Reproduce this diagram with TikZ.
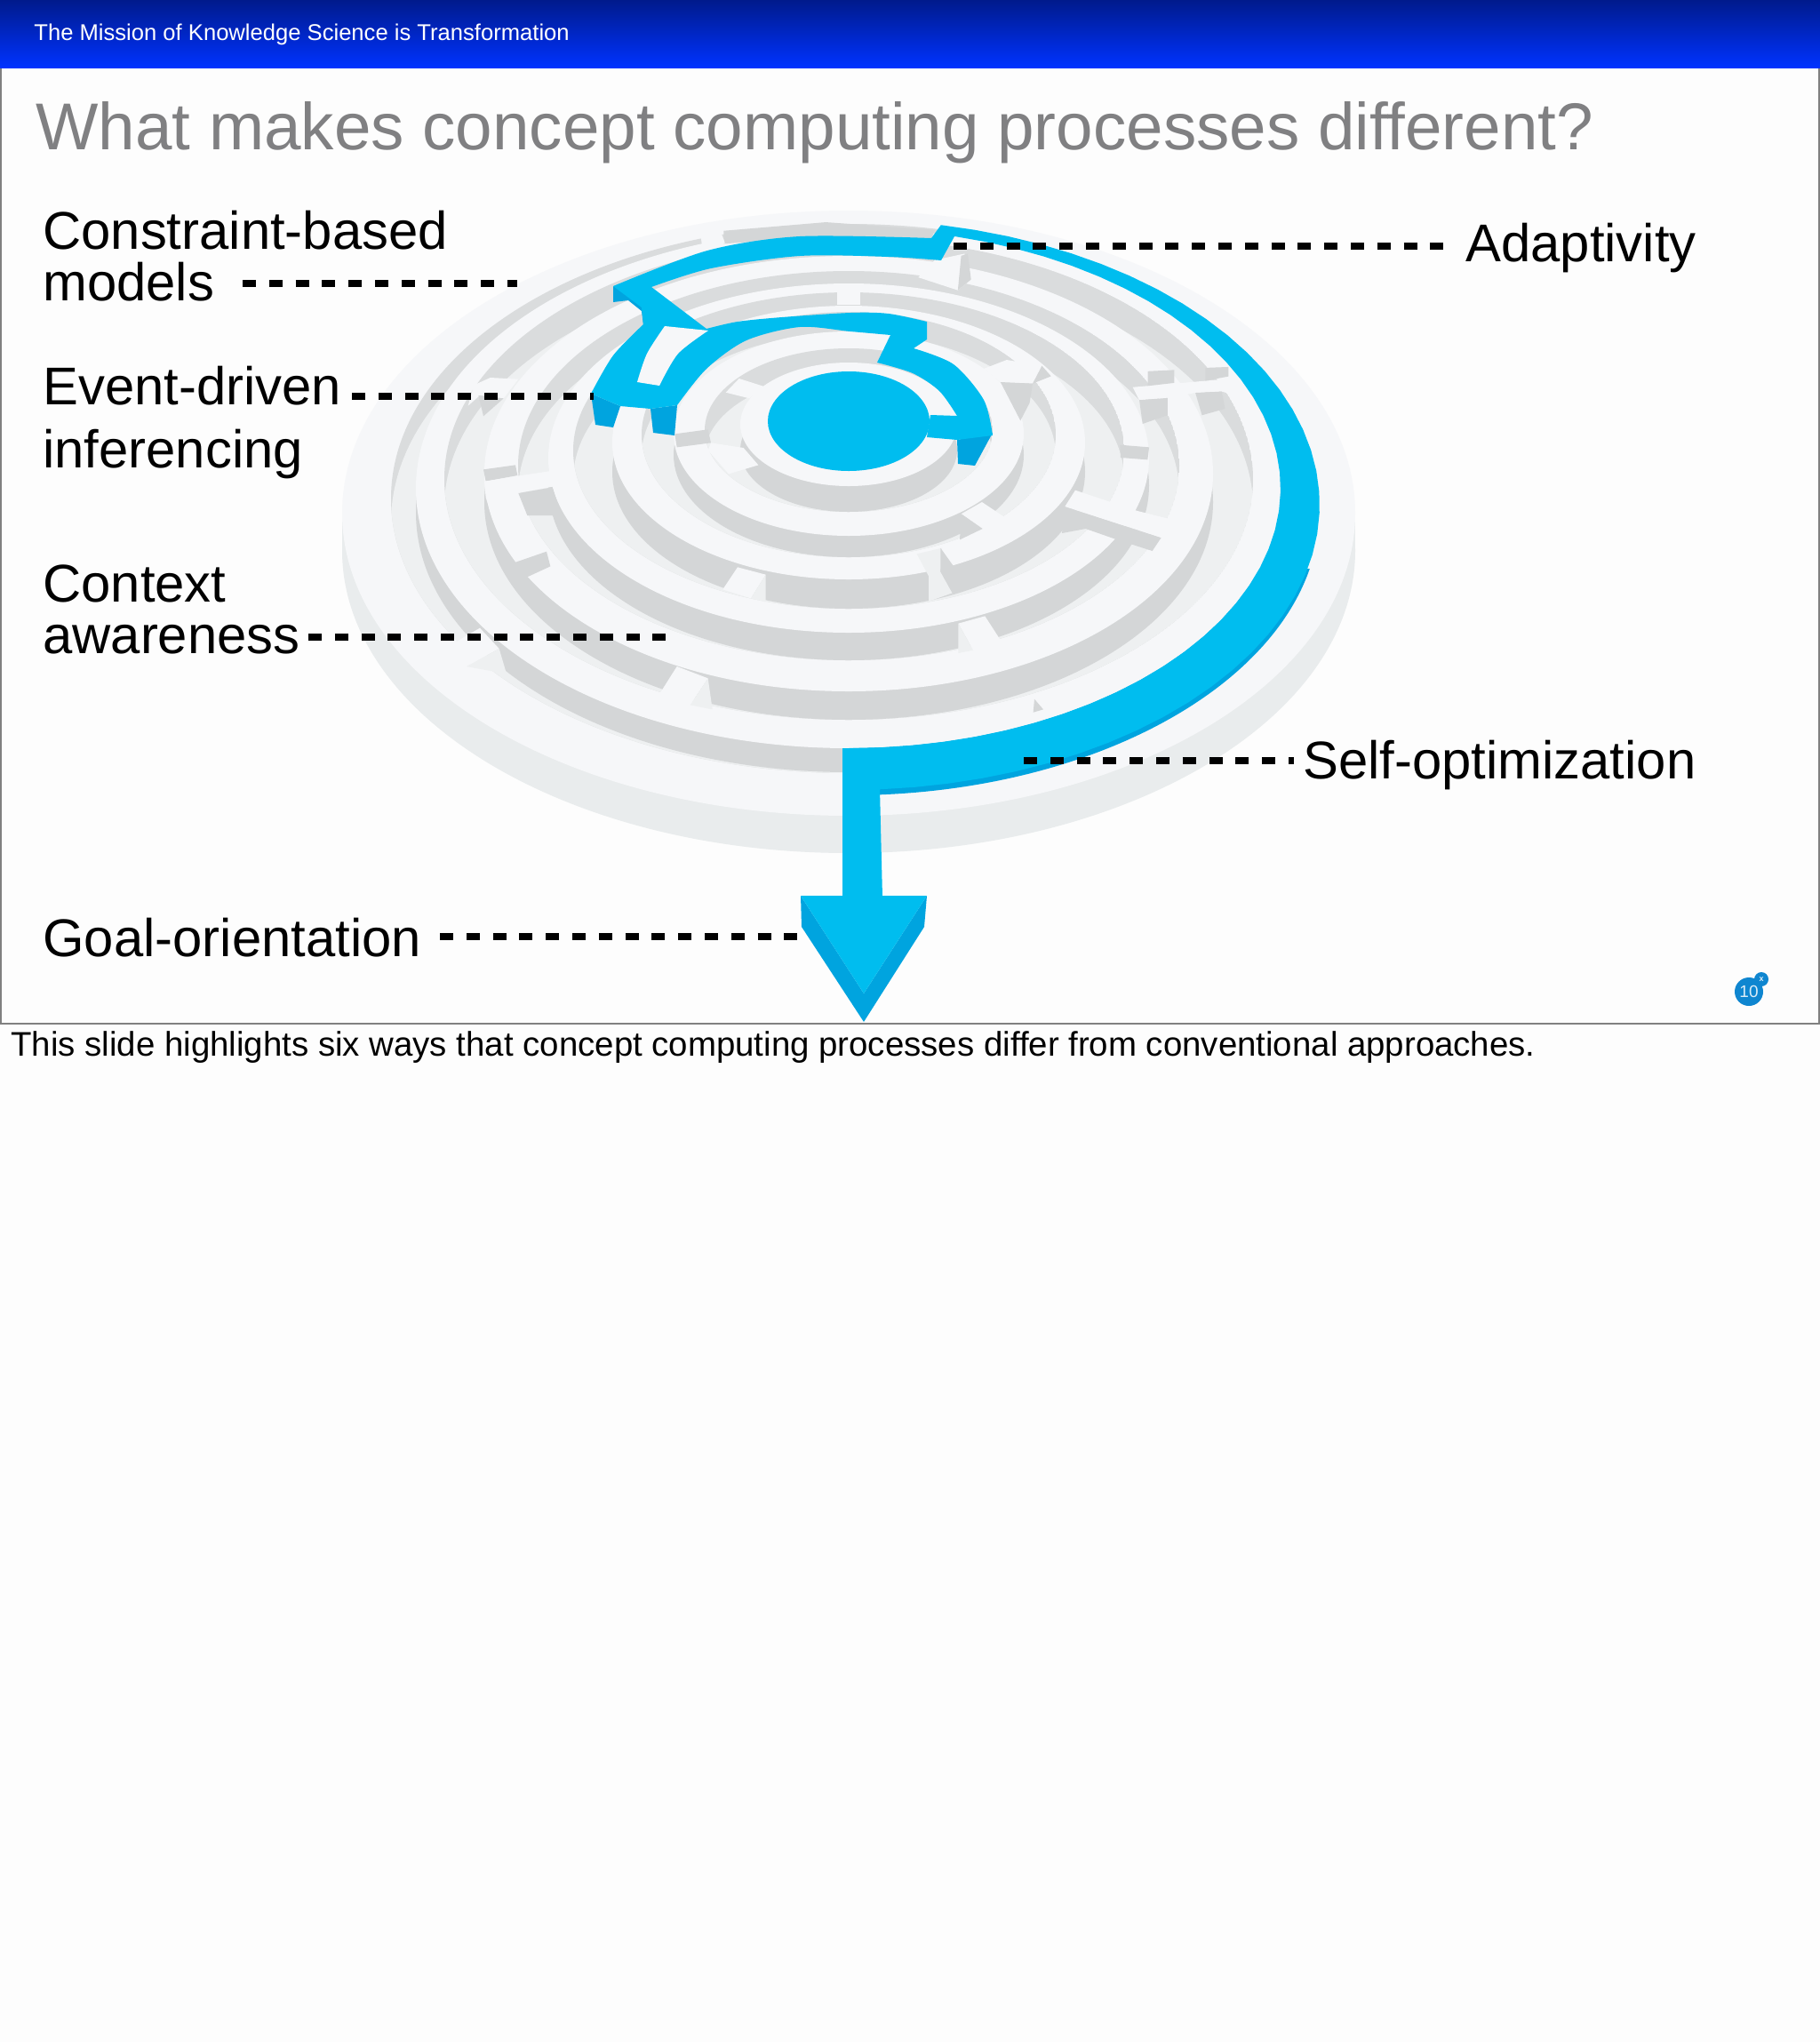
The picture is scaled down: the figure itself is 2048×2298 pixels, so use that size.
\documentclass[tikz,border=0pt]{standalone}
\usepackage{fontspec}
\setmainfont{Liberation Sans}
\definecolor{pagew}{HTML}{FDFDFD}
\definecolor{wtop}{HTML}{F6F7F9}
\definecolor{gside}{HTML}{D4D6D7}
\definecolor{gface}{HTML}{DADCDD}
\definecolor{gfloor}{HTML}{EEF0F1}
\definecolor{basec}{HTML}{E9ECED}
\definecolor{blu}{HTML}{00BDEF}
\definecolor{bld}{HTML}{00A4DF}
\definecolor{titleg}{HTML}{808082}
\definecolor{hdA}{HTML}{001A8C}
\definecolor{hdB}{HTML}{0033FF}
\definecolor{badge}{HTML}{0F86D0}
\newcommand\defring[3]{\expandafter\def\csname rb#1\endcsname{#2}\expandafter\def\csname rf#1\endcsname{#3}}
\defring{91}{418}{530}\defring{122}{408}{547}\defring{162}{392}{576}\defring{197}{373}{603}
\defring{233}{351}{627}\defring{266}{344}{652}\defring{310}{329}{685}\defring{338}{319}{712}
\defring{372}{305}{743}\defring{410}{288}{778}\defring{455}{268}{810}\defring{487}{257}{842}
\defring{515}{252}{870}\defring{570}{237}{918}\defring{486}{257}{842}\defring{530}{247}{889}
% ring path, radius #1, shifted down #2
\newcommand\rp[2]{(955,{(\csname rb#1\endcsname+\csname rf#1\endcsname)/2+#2}) ellipse [x radius=#1, y radius={(\csname rf#1\endcsname-\csname rb#1\endcsname)/2}]}
\newcommand\stepring[3]{%
 \begin{scope}\clip \rp{#1}{0};
 \fill[gface] \rp{#1}{0};
 \fill[gfloor] \rp{#1}{#3};
 \fill[gside] \rp{#2}{#3};
 \end{scope}
 \fill[wtop] \rp{#2}{0};}
\newcommand\larc[3]{-- plot[domain=#2:#3,samples=40,variable=\t] ({955+#1*cos(\t)},{(\csname rb#1\endcsname+\csname rf#1\endcsname)/2+(\csname rf#1\endcsname-\csname rb#1\endcsname)/2*sin(\t)})}
\newcommand\lsm[1]{-- plot[smooth] coordinates {#1}}
\tikzset{
 wb/.style={fill=wtop},
 gb/.style={fill=gside},
 fb/.style={fill=gfloor},
 leader/.style={draw=black,line width=4pt,dash pattern=on 7.5pt off 7.4pt},
 lbl/.style={font=\fontsize{29.9}{29.9}\selectfont,anchor=base west,inner sep=0pt,text=black},
 zA/.style={shift={(380,220)},x=0.3712pt,y=-0.2424pt},
 zB/.style={shift={(640,320)},x=0.16667pt,y=-0.16667pt},
 zC/.style={shift={(1000,240)},x=0.1724pt,y=-0.16667pt},
 zD/.style={shift={(380,550)},x=0.16667pt,y=-0.16667pt},
 zE/.style={shift={(1040,500)},x=0.16667pt,y=-0.16667pt},
 zF/.style={shift={(760,580)},x=0.16667pt,y=-0.16667pt},
 zG/.style={shift={(420,260)},x=0.16667pt,y=-0.16667pt},
}
\begin{document}
\begin{tikzpicture}[x=0.5pt,y=-0.5pt]
\useasboundingbox (0,0) rectangle (2048,2298);
\fill[pagew] (0,0) rectangle (2048,2298);
% slide
\draw[gray,line width=1pt] (1,76) -- (1,1152) -- (2047,1152) -- (2047,76);
\shade[top color=hdA,bottom color=hdB] (0,0) rectangle (2048,76);
\node[anchor=base west,inner sep=0pt,text=white,font=\fontsize{12.8}{12.8}\selectfont] (hdr) at (38,45) {The Mission of Knowledge Science is Transformation};
\node[anchor=base west,inner sep=0pt,text=titleg,font=\fontsize{37.3}{37.3}\selectfont] (ttl) at (40,168) {What makes concept computing processes different?};
% base
\fill[basec] (385,577) rectangle (1525,620);
\fill[basec] \rp{570}{42};
\fill[wtop] \rp{570}{0};
\stepring{515}{487}{27}
\stepring{455}{410}{32}
\stepring{372}{338}{31}
\stepring{310}{266}{33}
\stepring{233}{197}{24}
\stepring{162}{122}{29}
% ---- maze details
\begin{scope}[zA]
 \fill[gb] (585,82) -- (740,62) -- (905,80) -- (900,100) -- (700,100) -- (585,112) -- cycle;
 \fill[wb] (550,88) -- (580,82) -- (587,110) -- (553,128) -- cycle;
 \fill[wb] (905,150) -- (950,135) -- (960,195) -- (940,220) -- (880,190) -- cycle;
 \fill[gb] (945,140) -- (955,135) -- (960,195) -- (940,220) -- cycle;
 \fill[wb] (1205,445) -- (1370,423) -- (1398,480) -- (1340,455) -- (1300,458) -- (1258,470) -- (1215,475) -- cycle;
 \fill[gb] (1228,408) -- (1268,405) -- (1268,435) -- (1228,442) -- cycle;
 \fill[gb] (1315,400) -- (1350,398) -- (1350,420) -- (1315,430) -- cycle;
 \fill[gb] (1215,475) -- (1258,470) -- (1258,510) -- (1220,530) -- cycle;
 \fill[gb] (1300,458) -- (1340,455) -- (1345,495) -- (1310,510) -- cycle;
\end{scope}
\begin{scope}[zB]
 \fill[gb] (358,505) -- (470,490) -- (480,535) -- (365,550) -- cycle;
 \fill[wb] (530,365) -- (575,318) -- (660,345) -- (610,385) -- cycle;
 \fill[wb] (480,535) -- (590,552) -- (640,610) -- (540,640) -- (470,560) -- cycle;
 \fill[wb] (905,25) -- (985,25) -- (985,70) -- (905,70) -- cycle;
\end{scope}
\begin{scope}[zC]
 \fill[wb] (310,525) -- (385,495) -- (500,515) -- (470,575) -- (365,570) -- cycle;
 \fill[gb] (365,570) -- (470,575) -- (460,640) -- (430,700) -- cycle;
 \fill[gb] (470,575) -- (500,515) -- (530,550) -- cycle;
 \fill[gb] (755,782) -- (850,790) -- (845,832) -- (757,825) -- cycle;
\end{scope}
\begin{scope}[zE]
 \fill[gb] (475,210) -- (800,315) -- (770,360) -- (645,320) -- (545,285) -- (465,300) -- cycle;
 \fill[wb] (510,155) -- (720,225) -- (840,255) -- (900,280) -- (880,330) -- (800,315) -- (475,210) -- cycle;
 \fill[wb] (195,195) -- (270,245) -- (200,288) -- (125,235) -- cycle;
 \fill[gb] (125,235) -- (197,285) -- (120,322) -- cycle;
 \fill[gb] (372,860) -- (402,895) -- (368,905) -- cycle;
\end{scope}
\begin{scope}[zF]
 \fill[fb] (815,130) -- (900,110) -- (895,190) -- (935,262) -- (855,290) -- (855,205) -- cycle;
 \fill[gb] (895,110) -- (945,180) -- (935,262) -- (895,190) -- cycle;
 \fill[wb] (210,175) -- (305,200) -- (255,280) -- (160,250) -- cycle;
 \fill[fb] (305,200) -- (255,280) -- (305,292) -- cycle;
 \fill[wb] (955,365) -- (1045,340) -- (1100,425) -- (1005,455) -- cycle;
 \fill[fb] (955,365) -- (1005,455) -- (955,465) -- cycle;
\end{scope}
\begin{scope}[zD]
 \fill[wb] (360,540) -- (480,470) -- (545,540) -- (435,600) -- cycle;
 \fill[fb] (545,540) -- (435,600) -- (570,625) -- cycle;
 \fill[wb] (1145,600) -- (1250,640) -- (1190,730) -- (1085,695) -- cycle;
 \fill[fb] (1250,640) -- (1190,730) -- (1265,745) -- cycle;
 \fill[gb] (595,250) -- (705,212) -- (718,262) -- (640,298) -- cycle;
\end{scope}
\begin{scope}[zG]
 \fill[wb] (340,520) -- (395,495) -- (490,500) -- (440,565) -- (360,555) -- (320,590) -- cycle;
 \fill[gb] (355,555) -- (440,565) -- (372,625) -- cycle;
 \fill[gb] (372,805) -- (480,790) -- (487,825) -- (380,845) -- cycle;
 \fill[wb] (375,845) -- (487,827) -- (600,810) -- (610,862) -- (490,885) -- (400,960) -- (380,900) -- cycle;
 \fill[gb] (490,885) -- (605,865) -- (635,960) -- (520,960) -- cycle;
\end{scope}
% ---- blue path
\fill[bld] (690,322) -- (690,340) -- (707,338) -- (722,350) -- (724,366) -- (745,362) -- (720,337) -- cycle;
\fill[bld] (665,443) -- (670,478) -- (690,481) -- (698,457) -- cycle;
\fill[bld] (732,460) -- (735,487) -- (759,490) -- (762,456) -- cycle;
\fill[bld] (1077,495) -- (1078,522) -- (1097,524) -- (1117,487) -- cycle;
\fill[bld] (901,1008) -- (902,1043) -- (972,1150) -- (1040,1043) -- (1043,1008) -- (972,1118) -- cycle;
\begin{scope}
 \clip (960,640) rectangle (1500,900);
 \fill[bld,even odd rule] \rp{530}{6} \rp{486}{0};
\end{scope}
\fill[blu] (690,322) -- (722,346) -- (724,365)
 \lsm{(724,365) (690,400) (665,443)}
 -- (698,457) -- (732,460) -- (762,456)
 \lsm{(762,456) (795,415) (840,383) (900,368) (957,373) (1002,377)}
 -- (987,408)
 \lsm{(987,408) (1027,420) (1057,440) (1077,468)}
 -- (1077,495) -- (1117,490)
 \lsm{(1117,490) (1107,450) (1073,410) (1028,392)}
 -- (1043,382) -- (1043,362)
 \lsm{(1043,362) (1000,353) (957,352) (880,357) (830,362) (795,370)}
 -- (733,323)
 \lsm{(733,323) (800,302) (900,288) (1000,289) (1059,293)}
 -- (1074,266)
 \larc{486}{-75.8}{90} -- (948,842) -- (948,1010) -- (993,1010) -- (990,888)
 \larc{530}{86.2}{-78.7}
 -- (1048,268)
 \lsm{(1048,268) (900,266) (796,282) (690,322)}
 -- cycle;
\fill[wtop] (748,367) \lsm{(748,367) (728,398) (717,430)} -- (742,434) \lsm{(742,434) (763,398) (797,372)} -- cycle;
\fill[blu] (901,1008) -- (1043,1008) -- (972,1118) -- cycle;
\fill[blu] (1047,467) -- (1077,468) -- (1077,495) -- (1043,492) -- cycle;
\fill[blu] \rp{91}{0};
% ---- leaders
\coordinate (c1a) at (273,319); \coordinate (c1b) at (582,319);
\coordinate (c2a) at (396,446); \coordinate (c2b) at (668,446);
\coordinate (c3a) at (347,717); \coordinate (c3b) at (752,717);
\coordinate (c4a) at (1073,277); \coordinate (c4b) at (1627,277);
\coordinate (c5a) at (1152,856); \coordinate (c5b) at (1456,856);
\coordinate (c6a) at (495,1054); \coordinate (c6b) at (900,1054);
\draw[leader] (c1a) -- (c1b);
\draw[leader] (c2a) -- (c2b);
\draw[leader] (c3a) -- (c3b);
\draw[leader] (c4a) -- (c4b);
\draw[leader] (c5a) -- (c5b);
\draw[leader] (c6a) -- (c6b);
% ---- labels
\node[lbl] (l1) at (48,280) {Constraint-based};
\node[lbl] (l1b) at (48,338) {models};
\node[lbl] (l2) at (48,455) {Event-driven};
\node[lbl] (l2b) at (48,526) {inferencing};
\node[lbl] (l3) at (48,677) {Context};
\node[lbl] (l3b) at (48,735) {awareness};
\node[lbl] (l4) at (48,1076) {Goal-orientation};
\node[lbl] (l5) at (1649,294) {Adaptivity};
\node[lbl] (l6) at (1466,876) {Self-optimization};
\node[anchor=base west,inner sep=0pt,text=black,font=\fontsize{19.2}{19.2}\selectfont] (foot) at (12,1188) {This slide highlights six ways that concept computing processes differ from conventional approaches.};
% ---- badge
\fill[badge] (1968,1116) circle[radius=16];
\fill[badge] (1982,1102) circle[radius=8];
\node[text=white!85!badge,inner sep=0pt,font=\fontsize{9.5}{9.5}\selectfont] (bn) at (1968,1116) {10};
\node[text=white!85!badge,inner sep=0pt,font=\bfseries\fontsize{4.5}{4.5}\selectfont] (bx) at (1982,1102) {x};
\end{tikzpicture}
\end{document}
